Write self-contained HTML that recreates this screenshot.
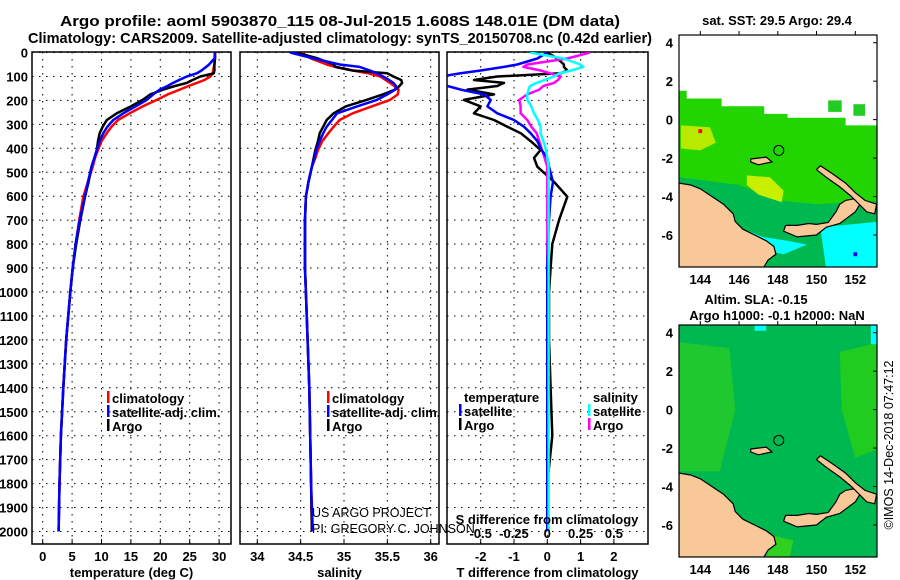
<!DOCTYPE html>
<html><head><meta charset="utf-8"><style>
html,body{margin:0;padding:0;background:#fff}
svg{display:block;font-family:"Liberation Sans",sans-serif}
.b{font-weight:bold}
</style></head><body>
<svg id="c" width="900" height="580" viewBox="0 0 900 580" xmlns="http://www.w3.org/2000/svg">
<defs>
<clipPath id="cp1"><rect x="32" y="52" width="199" height="492"/></clipPath>
<clipPath id="cp2"><rect x="240" y="52" width="199" height="492"/></clipPath>
<clipPath id="cp3"><rect x="447" y="52" width="201" height="492"/></clipPath>
<clipPath id="cm1"><rect x="679" y="35" width="198" height="232"/></clipPath>
<clipPath id="cm2"><rect x="679" y="325" width="198" height="232"/></clipPath>
</defs>
<text x="340" y="26" text-anchor="middle" class="b" font-size="15" textLength="560" lengthAdjust="spacingAndGlyphs">Argo profile: aoml 5903870_115 08-Jul-2015 1.608S 148.01E (DM data)</text>
<text x="340" y="43" text-anchor="middle" class="b" font-size="15" textLength="624" lengthAdjust="spacingAndGlyphs">Climatology: CARS2009. Satellite-adjusted climatology: synTS_20150708.nc (0.42d earlier)</text>
<g id="g1"></g>
<g id="g2"></g>
<g id="g3"></g>
<g id="credit">
<text x="312" y="517" font-size="12.5">US ARGO PROJECT</text>
<text x="312" y="533" font-size="12.5">PI: GREGORY C. JOHNSON</text>
</g>
<g id="m1"></g>
<g id="m2"></g>
<text transform="translate(893,445) rotate(-90)" text-anchor="middle" font-size="12.5">©IMOS 14-Dec-2018 07:47:12</text>
</svg>
<script>
const depths=[0,25,50,60,75,87,100,115,127,140,155,175,198,225,254,282,310,337,370,407,440,477,540,602,700,800,900,1000,1200,1400,1600,1800,2000];
const tempClim=[29.3,29.3,29.2,29.1,29.0,28.9,28.5,27.5,26.2,24.8,23.3,21.3,19.4,17.0,14.8,12.8,11.7,10.9,10.0,9.4,8.9,8.5,7.7,6.9,6.2,5.6,5.1,4.7,4.0,3.5,3.1,2.85,2.7];
const tempSat=[29.3,29.2,28.3,27.8,27.0,26.2,24.5,23.2,22.2,21.2,19.9,18.8,17.7,15.8,13.7,12.0,11.0,10.3,9.7,9.2,8.8,8.3,7.7,7.2,6.3,5.6,5.1,4.7,4.0,3.5,3.1,2.85,2.7];
const tempArgo=[29.3,29.3,29.2,29.2,29.2,29.1,26.8,25.5,24.5,22.5,20.5,18.3,17.0,15.0,12.6,10.9,10.2,9.7,9.4,9.2,8.8,8.3,7.8,7.2,6.4,5.7,5.1,4.7,4.0,3.5,3.1,2.85,2.7];
const salClim=[34.51,34.62,34.8,34.9,35.1,35.28,35.42,35.48,35.53,35.58,35.63,35.62,35.53,35.32,35.1,34.95,34.88,34.82,34.75,34.70,34.67,34.63,34.59,34.56,34.55,34.55,34.55,34.56,34.58,34.60,34.61,34.62,34.63];
const salSat=[34.38,34.65,34.95,35.18,35.3,35.38,35.45,35.52,35.57,35.6,35.59,35.5,35.38,35.15,34.92,34.86,34.8,34.76,34.72,34.68,34.66,34.63,34.59,34.56,34.55,34.55,34.55,34.56,34.58,34.60,34.61,34.62,34.64];
const salArgo=[34.45,34.7,34.88,34.9,35.1,35.5,35.57,35.66,35.67,35.64,35.59,35.45,35.26,35.02,34.88,34.80,34.76,34.72,34.70,34.67,34.65,34.63,34.59,34.56,34.55,34.55,34.55,34.56,34.58,34.60,34.61,34.62,34.63];
const dTempSat=[0,-0.3,-0.9,-1.3,-2.0,-2.6,-3.2,-3.2,-3.2,-3.0,-2.6,-1.9,-1.7,-1.8,-1.5,-1.0,-0.7,-0.5,-0.3,-0.17,0,0.05,0.17,0.1,0.05,0.02,0,0,0,0,0,0,0];
const dTempArgo=[0,0.3,0.5,0.5,0.6,0.4,-1.5,-2.2,-1.3,-1.5,-2.4,-1.6,-2.5,-2.0,-2.2,-1.6,-1.2,-0.8,-0.5,-0.2,-0.4,-0.3,0.2,0.6,0.35,0.15,0.1,0.05,0.05,0.1,0.15,0.0,0];
const dSalSat=[-0.13,0.12,0.25,0.27,0.18,0.09,0.05,-0.02,-0.08,-0.13,-0.14,-0.15,-0.15,-0.12,-0.1,-0.07,-0.05,-0.05,-0.03,-0.01,0,0.01,0.01,0.01,0.01,0.01,0.01,0.01,0.01,0.01,0.01,0.01,0.01];
const dSalArgo=[0.32,0.15,-0.15,-0.18,-0.05,0.02,0.1,0.08,0.05,-0.03,-0.06,-0.15,-0.21,-0.2,-0.2,-0.15,-0.12,-0.08,-0.06,-0.04,-0.02,0,0,0,0,0,0,0,0,0,0,0,0];
const depthTicks=[0,100,200,300,400,500,600,700,800,900,1000,1100,1200,1300,1400,1500,1600,1700,1800,1900,2000];
const tempTicks=[0,5,10,15,20,25,30];
const salTicks=[34,34.5,35,35.5,36];
const dTempTicks=[-2,-1,0,1,2];
const dSalTicks=[-0.5,-0.25,0,0.25,0.5];
const latTicks=[4,2,0,-2,-4,-6];
const lonTicks=[144,146,148,150,152];

const NS='http://www.w3.org/2000/svg';
function mk(p,tag,at){const e=document.createElementNS(NS,tag);for(const k in at)e.setAttribute(k,at[k]);p.appendChild(e);return e;}
const yD=d=>52.5+d*0.2395;
const xT=v=>42.7+v*5.88;
const xS=v=>257.3+(v-34)*86.7;
const xDT=v=>547.3+v*33.3;
const xDS=v=>547.3+v*133.3;

function panel(g,x0,w,ticks,xf,fmt,label,cp){
  const r=mk(g,'rect',{x:x0,y:52,width:w,height:492,fill:'#fff',stroke:'#000','stroke-width':1.5});
  
  
  depthTicks.forEach(d=>{
    const l=mk(g,'line',{x1:x0,x2:x0+w,y1:yD(d),y2:yD(d),stroke:'#000','stroke-dasharray':'1.5,5.5','stroke-width':1});
    
    
  });
  ticks.forEach(t=>{
    const x=xf(t);
    const l=mk(g,'line',{x1:x,x2:x,y1:52,y2:544,stroke:'#000','stroke-dasharray':'1.5,5.5','stroke-width':1});
    
    
    if(fmt){
      const tk=mk(g,'line',{x1:x,x2:x,y1:544,y2:539,stroke:'#000'});
      
      
      const tx=mk(g,'text',{x:x,y:561,'text-anchor':'middle','font-size':13,'font-weight':'bold'});
      tx.textContent=fmt(t);
      
      
    }
  });
  const lb=mk(g,'text',{x:x0+w/2,y:577,'text-anchor':'middle','font-size':13,'font-weight':'bold'});
  lb.textContent=label;
  
  
}
function series(g,xs,xf,color,name,cp){
  const pts=depths.map((d,i)=>xf(xs[i]).toFixed(1)+','+yD(d).toFixed(1)).join(' ');
  const p=mk(g,'polyline',{points:pts,fill:'none',stroke:color,'stroke-width':2.5,'stroke-linejoin':'round','clip-path':'url(#'+cp+')'});
  
  
}
function legend(g,x,y,color,txt,name){
  const l=mk(g,'rect',{x:x,y:y-12,width:2.5,height:12,fill:color});
  
  
  const t=mk(g,'text',{x:x+5,y:y,'font-size':13,'font-weight':'bold'});
  t.textContent=txt;
  
  
}

const g1=document.getElementById('g1');
panel(g1,32,199,tempTicks,xT,v=>String(v),'temperature (deg C)');
depthTicks.forEach(d=>{
  const t=mk(g1,'text',{x:28,y:yD(d)+5,'text-anchor':'end','font-size':13,'font-weight':'bold'});
  t.textContent=String(d);
  
  
});
series(g1,tempClim,xT,'#f00','temp-climatology-line','cp1');
series(g1,tempArgo,xT,'#000','temp-argo-line','cp1');
series(g1,tempSat,xT,'#00f','temp-satellite-line','cp1');
legend(g1,107,403,'#f00','climatology','legend-climatology');
legend(g1,107,417,'#00f','satellite-adj. clim.','legend-satellite');
legend(g1,107,431,'#000','Argo','legend-argo');

const g2=document.getElementById('g2');
panel(g2,240,199,salTicks,xS,v=>String(v),'salinity');
series(g2,salClim,xS,'#f00','sal-climatology-line','cp2');
series(g2,salArgo,xS,'#000','sal-argo-line','cp2');
series(g2,salSat,xS,'#00f','sal-satellite-line','cp2');
legend(g2,327,403,'#f00','climatology','legend-climatology');
legend(g2,327,417,'#00f','satellite-adj. clim.','legend-satellite');
legend(g2,327,431,'#000','Argo','legend-argo');

const g3=document.getElementById('g3');
panel(g3,447,201,dTempTicks,xDT,v=>String(v),'T difference from climatology');
series(g3,dTempArgo,xDT,'#000','dtemp-argo-line','cp3');
series(g3,dSalArgo,xDS,'#f0f','dsal-argo-line','cp3');
series(g3,dTempSat,xDT,'#00f','dtemp-satellite-line','cp3');
series(g3,dSalSat,xDS,'#0ff','dsal-satellite-line','cp3');
legend(g3,459,402,'#fff','temperature','legend-temperature-heading');
legend(g3,459,416,'#00f','satellite','legend-temp-satellite');
legend(g3,459,430,'#000','Argo','legend-temp-argo');
legend(g3,588,402,'#fff','salinity','legend-salinity-heading');
legend(g3,588,416,'#0ff','satellite','legend-sal-satellite');
legend(g3,588,430,'#f0f','Argo','legend-sal-argo');
{
  const t=mk(g3,'text',{x:547,y:524,'text-anchor':'middle','font-size':13,'font-weight':'bold'});
  t.textContent='S difference from climatology';
  
  
  dSalTicks.forEach(v=>{
    const s=mk(g3,'text',{x:xDS(v),y:538,'text-anchor':'middle','font-size':13,'font-weight':'bold'});
    s.textContent=String(v);
    
    
  });
}

const mx=lon=>700.3+(lon-144)*19.375;
const my=(lat,off)=>off+42.7+(4-lat)*19.23;
const ngCoast=[[142.9,-3.3],[143.5,-3.4],[144,-3.6],[144.6,-4],[145.2,-4.4],[145.7,-4.9],[145.8,-5.3],[146.2,-5.7],[146.8,-6],[147.4,-6.3],[147.8,-6.6],[147.9,-7],[147.5,-7.3],[147.2,-7.8],[142.9,-7.8]];
const nbCoast=[[148.3,-5.8],[149,-6.1],[150,-6.0],[150.5,-5.6],[151.2,-5.4],[151.6,-5.1],[152,-4.8],[152.3,-4.3],[152,-4.1],[151.5,-4.2],[151.2,-4.4],[151,-4.8],[150.6,-5.35],[150,-5.45],[149.6,-5.4],[149,-5.5],[148.4,-5.5]];
const niCoast=[[150.2,-2.4],[150.8,-2.8],[151.5,-3.3],[152,-3.8],[152.5,-4.2],[153.1,-4.4],[153,-4.9],[152.6,-4.8],[152.3,-4.5],[151.8,-4.0],[151.2,-3.5],[150.5,-3.0],[150,-2.6]];
const manus=[[146.6,-2.05],[147.4,-1.95],[147.7,-2.2],[147,-2.35],[146.6,-2.2]];
function poly(g,pts,off,fill,name,stroke){
  const p=mk(g,'polygon',{points:pts.map(q=>mx(q[0]).toFixed(1)+','+my(q[1],off).toFixed(1)).join(' '),fill:fill,stroke:stroke||'#000','stroke-width':stroke===undefined?1.2:0});
  
  
}
function mapFrame(g,off,cp,fields){
  const b=mk(g,'g',{'clip-path':'url(#'+cp+')'});
  fields(b);
  poly(b,ngCoast,off,'#f8c898','new-guinea-land');
  poly(b,nbCoast,off,'#f8c898','new-britain-land');
  poly(b,niCoast,off,'#f8c898','new-ireland-land');
  poly(b,manus,off,'#f8c898','manus-island-land');
  const c=mk(b,'circle',{cx:mx(148.05),cy:my(-1.6,off),r:5,fill:'none',stroke:'#000','stroke-width':1});
  
  
  const fr=mk(g,'rect',{x:679,y:off+35,width:198,height:232,fill:'none',stroke:'#000','stroke-width':1.2});
  
  
  latTicks.forEach(l=>{
    const t=mk(g,'text',{x:673,y:my(l,off)+5,'text-anchor':'end','font-size':13,'font-weight':'bold'});
    t.textContent=String(l);
    
    
    const k=mk(g,'line',{x1:877,x2:873,y1:my(l,off),y2:my(l,off),stroke:'#000'});
    
    
  });
  lonTicks.forEach(l=>{
    const t=mk(g,'text',{x:mx(l),y:off+284,'text-anchor':'middle','font-size':13,'font-weight':'bold'});
    t.textContent=String(l);
    
    
    const k=mk(g,'line',{x1:mx(l),x2:mx(l),y1:off+35,y2:off+31,stroke:'#000'});
    
    
  });
}
const m1=document.getElementById('m1');
mapFrame(m1,0,'cm1',b=>{
  poly(b,[[142.9,1.5],[143.3,1.5],[143.3,1.1],[145.1,1.1],[145.1,0.7],[147.3,0.7],[147.3,0.3],[148.5,0.3],[148.5,0.1],[151.5,0.1],[151.5,-0.3],[153.3,-0.3],[153.3,-7.8],[142.9,-7.8]],0,'#22d400','sst-field',null);
  poly(b,[[142.9,-3],[146,-3.4],[148,-4.2],[150,-4.4],[153.3,-4.2],[153.3,-7.8],[142.9,-7.8]],0,'#00b850','sst-cool-band',null);
  poly(b,[[143,-0.3],[144.5,-0.4],[144.8,-1.2],[144,-1.6],[143,-1.5]],0,'#b8ea00','sst-warm-patch-west',null);
  poly(b,[[146.4,-2.9],[147.6,-3],[148.3,-3.7],[148.2,-4.3],[147,-3.9],[146.4,-3.4]],0,'#c8ee00','sst-warm-patch-center',null);
  poly(b,[[150.2,-5.6],[153.3,-5.3],[153.3,-7.8],[150.5,-7.8]],0,'#00ffff','sst-cold-patch-east',null);
  poly(b,[[146,-5.6],[147.2,-6.1],[148.5,-6.3],[149.5,-6.5],[148.3,-7.0],[146.5,-6.6]],0,'#00ffff','sst-cold-patch-south',null);
  poly(b,[[150.6,1],[151.3,1],[151.3,0.4],[150.6,0.4]],0,'#22cc22','sst-cell',null);
  poly(b,[[151.9,0.8],[152.5,0.8],[152.5,0.2],[151.9,0.2]],0,'#22cc22','sst-cell',null);
  poly(b,[[143.9,-0.5],[144.1,-0.5],[144.1,-0.7],[143.9,-0.7]],0,'#f00','sst-hot-cell',null);
  poly(b,[[151.9,-6.9],[152.1,-6.9],[152.1,-7.1],[151.9,-7.1]],0,'#00f','sst-cold-cell',null);
});
const m2=document.getElementById('m2');
mapFrame(m2,290,'cm2',b=>{
  poly(b,[[142.9,4.4],[153.3,4.4],[153.3,-7.8],[142.9,-7.8]],290,'#00b850','sla-field',null);
  poly(b,[[142.9,3.5],[145.5,3.2],[145.8,0],[145,-3.2],[142.9,-3.2]],290,'#20c830','sla-high-west',null);
  poly(b,[[151.2,3],[153.3,3.5],[153.3,-2],[152,-2.5],[151.3,0]],290,'#20cc20','sla-high-east',null);
  poly(b,[[147.6,-6.5],[148.8,-6.8],[148.6,-7.8],[147.4,-7.8]],290,'#30d020','sla-high-south',null);
  poly(b,[[146.8,4.4],[147.4,4.4],[147.4,4.1],[146.8,4.1]],290,'#00ffff','sla-cell',null);
  poly(b,[[152.8,4.4],[153.3,4.4],[153.3,3.4],[152.8,3.4]],290,'#00ffff','sla-cell',null);
});
{
  const add=(x,y,txt,name)=>{const t=mk(document.getElementById('c'),'text',{x:x,y:y,'text-anchor':'middle','font-size':13,'font-weight':'bold'});t.textContent=txt;};
  add(777,25,'sat. SST: 29.5 Argo: 29.4','sst-map-title');
  add(756,304,'Altim. SLA: -0.15','sla-map-title');
  add(777,320,'Argo h1000: -0.1 h2000: NaN','sla-map-subtitle');
}
</script>
</body></html>
